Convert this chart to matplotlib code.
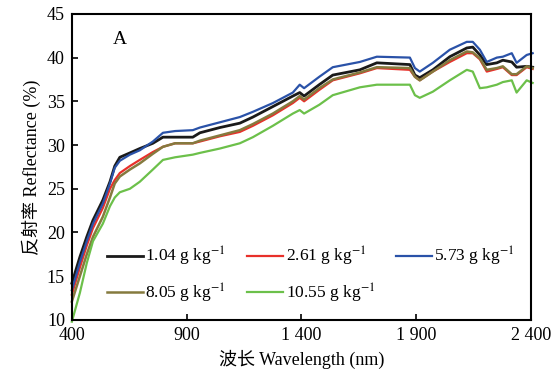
import matplotlib
matplotlib.use("Agg")
import matplotlib.pyplot as plt

plt.rcParams['font.family'] = ['Liberation Serif', 'Noto Sans CJK SC']
plt.rcParams['mathtext.fontset'] = 'stix'

wavelength = [400, 435, 465, 492, 535, 566, 587, 609, 653, 696, 753, 797, 850, 927, 958,
              1045, 1132, 1189, 1276, 1363, 1393, 1412, 1478, 1537, 1655, 1729, 1873, 1895,
              1916, 1973, 2047, 2121, 2147, 2178, 2208, 2252, 2278, 2317, 2338, 2382, 2408]

s104 = [14.2, 17.2, 19.5, 21.4, 23.7, 25.8, 27.6, 28.6, 29.1, 29.6, 30.2, 30.9, 30.9, 30.9, 31.4,
        32.0, 32.5, 33.2, 34.4, 35.6, 36.0, 35.6, 36.9, 38.0, 38.6, 39.4, 39.2, 38.0,
        37.7, 38.6, 40.1, 41.1, 41.2, 40.3, 39.2, 39.4, 39.7, 39.5, 38.9, 39.0, 38.9]
s261 = [12.9, 16.0, 18.5, 20.5, 22.8, 25.0, 26.0, 26.8, 27.6, 28.3, 29.2, 29.8, 30.2, 30.2, 30.4,
        31.0, 31.5, 32.2, 33.4, 34.8, 35.4, 35.0, 36.3, 37.4, 38.2, 38.8, 38.6, 37.8,
        37.4, 38.4, 39.5, 40.5, 40.5, 39.8, 38.4, 38.7, 38.9, 38.0, 38.0, 38.9, 38.7]
s573 = [13.4, 16.6, 19.0, 21.0, 23.3, 25.6, 27.4, 28.2, 28.9, 29.4, 30.4, 31.4, 31.6, 31.7, 32.0,
        32.6, 33.2, 33.8, 34.8, 36.0, 36.9, 36.5, 37.8, 38.9, 39.5, 40.1, 40.0, 38.8,
        38.4, 39.4, 40.9, 41.8, 41.8, 40.9, 39.5, 40.0, 40.1, 40.5, 39.4, 40.3, 40.5]
s805 = [12.1, 15.0, 17.5, 19.5, 21.8, 24.0, 25.6, 26.4, 27.2, 27.9, 29.0, 29.8, 30.2, 30.2, 30.5,
        31.1, 31.7, 32.4, 33.6, 35.0, 35.6, 35.2, 36.5, 37.5, 38.3, 38.9, 38.8, 37.8,
        37.4, 38.4, 39.7, 40.7, 40.6, 39.9, 38.6, 38.8, 39.0, 38.1, 38.1, 39.0, 38.8]
s1055 = [9.8, 13.1, 16.5, 19.0, 21.0, 23.0, 24.0, 24.6, 25.0, 25.8, 27.2, 28.3, 28.6, 28.9, 29.1,
         29.6, 30.2, 30.9, 32.2, 33.6, 34.0, 33.6, 34.6, 35.7, 36.6, 36.9, 36.9, 35.7,
         35.4, 36.1, 37.4, 38.6, 38.4, 36.5, 36.6, 36.9, 37.2, 37.4, 36.0, 37.4, 37.1]

labels = ['1.04 g kg$^{-1}$', '2.61 g kg$^{-1}$', '5.73 g kg$^{-1}$',
          '8.05 g kg$^{-1}$', '10.55 g kg$^{-1}$']
colors = ['#1a1a1a', '#e8302a', '#2a52a8', '#857a3e', '#6cc04a']
widths = [2.0, 1.6, 1.6, 1.8, 1.6]
series = [s104, s261, s573, s805, s1055]

xticks = [400, 900, 1400, 1900, 2400]
xticklabels = ['400', '900', '1 400', '1 900', '2 400']
yticks = [10, 15, 20, 25, 30, 35, 40, 45]

fig = plt.figure(figsize=(5.57, 3.85), dpi=100)
ax = fig.add_axes([0.129, 0.169, 0.824, 0.795])

handles = []
for ys, c, lw, lab in zip(series, colors, widths, labels):
    h, = ax.plot(wavelength, ys, color=c, lw=lw, label=lab, clip_on=False)
    handles.append(h)

ax.set_xlim(400, 2400)
ax.set_ylim(10, 45)
ax.set_xticks(xticks)
ax.set_xticklabels(xticklabels)
ax.set_yticks(yticks)
ax.tick_params(direction='in', labelsize=13, length=4, width=1.2, top=False, right=False, pad=5)
for sp in ax.spines.values():
    sp.set_linewidth(1.5)

ax.set_xlabel('波长 Wavelength (nm)', fontsize=13, labelpad=4)
ax.set_ylabel('反射率 Reflectance (%)', fontsize=13, labelpad=4)
ax.text(0.105, 0.915, 'A', transform=ax.transAxes, fontsize=14, ha='center', va='center')

order = [0, 3, 1, 4, 2]
ax.legend([handles[i] for i in order], [labels[i] for i in order], ncol=3, frameon=False,
          fontsize=12.5, loc='center left', bbox_to_anchor=(0.05, 0.147), handlelength=2.1,
          columnspacing=1.2, handletextpad=0.12, labelspacing=0.75, borderpad=0.2)

fig.savefig('out.png', dpi=100)
